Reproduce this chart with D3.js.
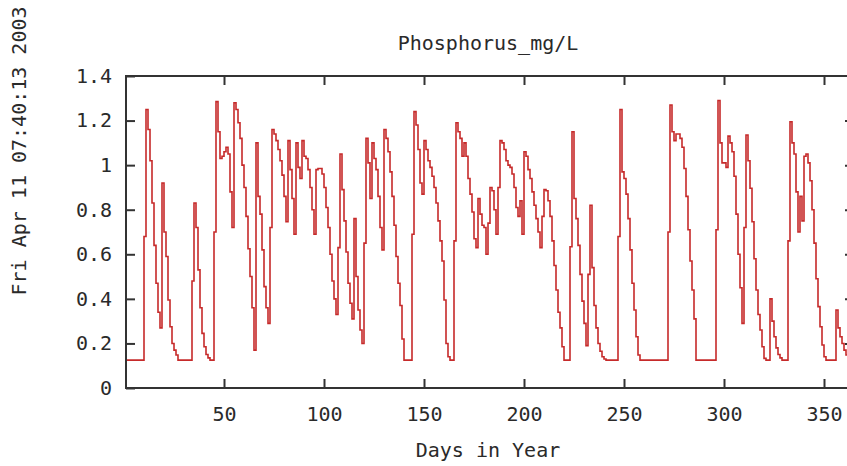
<!DOCTYPE html>
<html lang="en">
<head>
<meta charset="UTF-8">
<title>Phosphorus_mg/L</title>
<script src="https://d3js.org/d3.v7.min.js"></script>
<style>
  body { margin: 0; background: #fff; overflow: hidden; }
  #chart { width: 847px; height: 466px; overflow: hidden; }
  text { font-family: "DejaVu Sans Mono", "Liberation Mono", monospace; fill: #2a2a2a; }
</style>
</head>
<body>
<div id="chart"></div>
<script>

// daily phosphorus readings, one per day starting at day 1
var firstDay = 1
var phosphorus = [
  .125,.125,.125,.125,.125,.125,.125,.125,.125,.68,
  1.25,1.16,1.02,.83,.64,.47,.34,.27,.92,.70,
  .59,.395,.275,.20,.17,.148,.125,.125,.125,.125,
  .125,.125,.125,.48,.83,.72,.53,.36,.245,.185,
  .15,.135,.125,.125,.70,1.285,1.15,1.03,1.04,1.06,
  1.08,1.05,.88,.72,1.28,1.25,1.19,1.12,1.00,.90,
  .77,.625,.50,.36,.17,1.10,.86,.78,.62,.455,
  .36,.29,.72,1.16,1.14,1.11,1.07,1.02,.955,.86,
  .746,1.11,.98,.85,.69,1.10,.99,.94,1.11,1.04,
  1.03,.98,.90,.80,.69,.98,.985,.985,.96,.90,
  .81,.72,.60,.48,.40,.33,.63,1.05,.89,.75,
  .61,.47,.38,.31,.76,.50,.35,.26,.20,.65,
  1.12,1.01,.85,1.10,1.03,.98,.86,.72,.62,1.16,
  1.12,1.06,.97,.86,.73,.59,.47,.37,.22,.125,
  .125,.125,.125,.69,1.24,1.18,1.07,.92,.87,1.11,
  1.07,1.02,.99,.95,.90,.83,.75,.66,.57,.395,
  .20,.14,.125,.125,.66,1.19,1.15,1.12,1.04,1.10,
  1.04,.94,.87,.79,.67,.63,.85,.78,.73,.72,
  .60,.74,.90,.885,.80,.69,.90,1.11,1.10,1.07,
  1.02,1.00,.99,.96,.90,.81,.77,.84,.69,1.06,
  1.04,.98,.94,.88,.82,.76,.70,.63,.77,.89,
  .885,.84,.77,.66,.55,.44,.34,.27,.185,.125,
  .125,.125,.634,1.15,.85,.76,.64,.51,.39,.29,
  .19,.51,.82,.54,.37,.27,.20,.165,.14,.13,
  .125,.125,.125,.125,.125,.125,.68,1.25,.97,.94,
  .87,.76,.62,.47,.35,.23,.148,.125,.125,.125,
  .125,.125,.125,.125,.125,.125,.125,.125,.125,.125,
  .125,.70,1.27,1.15,1.11,1.14,1.14,1.12,1.08,.985,
  .86,.71,.57,.44,.31,.125,.125,.125,.125,.125,
  .125,.125,.125,.125,.125,.71,1.29,1.10,1.01,1.01,
  .99,1.13,1.10,1.06,.95,.78,.60,.45,.29,.72,
  1.135,1.02,.896,.746,.58,.44,.33,.26,.185,.133,
  .125,.125,.40,.30,.23,.18,.15,.135,.125,.125,
  .125,.66,1.195,1.10,1.05,.88,.70,.86,.75,1.04,
  1.05,1.01,.93,.80,.65,.49,.365,.275,.193,.14,
  .125,.125,.125,.125,.125,.35,.27,.23,.20,.17,
  .148,.14,.13,.125,.125
]

// tick values and labels
var xTicks = [50, 100, 150, 200, 250, 300, 350]
var yTicks = [0, 0.2, 0.4, 0.6, 0.8, 1, 1.2, 1.4]
var title = "Phosphorus_mg/L"
var xLabel = "Days in Year"
var stamp = "Fri Apr 11 07:40:13 2003"

var width = 847
var height = 466
// plot box (right border sits just past the window edge, like the original)
var boxLeft = 126, boxTop = 76, boxRight = 854, boxBottom = 388

var data = phosphorus.map(function(v, i){ return { day: firstDay + i, value: v } })

var x = d3.scaleLinear()
  .domain([firstDay, firstDay + phosphorus.length - 1])
  .range([boxLeft, boxRight])

var y = d3.scaleLinear()
  .domain([0, 1.4])
  .range([boxBottom, boxTop])

var svg = d3.select("#chart")
  .append("svg")
    .attr("width", width)
    .attr("height", height)

var fmt = function(d){ return d3.format("~g")(d) }

// left axis with labels, ticks point inward
svg.append("g")
  .attr("transform", "translate(" + boxLeft + ",0)")
  .call(d3.axisLeft(y).tickValues(yTicks).tickFormat(fmt).tickSizeInner(-9).tickSizeOuter(0).tickPadding(14))

// right axis, mirrored ticks only
svg.append("g")
  .attr("transform", "translate(" + boxRight + ",0)")
  .call(d3.axisRight(y).tickValues(yTicks.slice(1, -1)).tickFormat("").tickSizeInner(-9).tickSizeOuter(0))

// bottom axis with labels
svg.append("g")
  .attr("transform", "translate(0," + boxBottom + ")")
  .call(d3.axisBottom(x).tickValues(xTicks).tickFormat(fmt).tickSizeInner(-9).tickSizeOuter(0).tickPadding(19))

// top axis, mirrored ticks only
svg.append("g")
  .attr("transform", "translate(0," + boxTop + ")")
  .call(d3.axisTop(x).tickValues(xTicks).tickFormat("").tickSizeInner(-9).tickSizeOuter(0))

svg.selectAll(".domain").remove()
svg.selectAll(".tick line").attr("stroke", "#333").attr("stroke-width", 2)
svg.selectAll(".tick text")
  .style("font-size", "20px")
  .style("fill", "#2a2a2a")

// the line, drawn as steps
var line = d3.line()
  .curve(d3.curveStepAfter)
  .x(function(d){ return x(d.day) })
  .y(function(d){ return y(d.value) })

svg.append("clipPath")
  .attr("id", "plotclip")
  .append("rect")
    .attr("x", boxLeft).attr("y", boxTop)
    .attr("width", boxRight - boxLeft).attr("height", boxBottom - boxTop)

svg.append("path")
  .datum(data)
  .attr("clip-path", "url(#plotclip)")
  .attr("fill", "none")
  .attr("stroke", "#c62a2a")
  .attr("stroke-width", 1.6)
  .attr("d", line)

// border box
svg.append("rect")
  .attr("x", boxLeft).attr("y", boxTop)
  .attr("width", boxRight - boxLeft).attr("height", boxBottom - boxTop)
  .attr("fill", "none")
  .attr("stroke", "#333")
  .attr("stroke-width", 2)

// title and labels
svg.append("text")
  .attr("x", (boxLeft + boxRight) / 2 - 2)
  .attr("y", 50)
  .attr("text-anchor", "middle")
  .style("font-size", "20px")
  .text(title)

svg.append("text")
  .attr("x", (boxLeft + boxRight) / 2 - 2)
  .attr("y", 457)
  .attr("text-anchor", "middle")
  .style("font-size", "20px")
  .text(xLabel)

svg.append("text")
  .attr("transform", "translate(26,151) rotate(-90)")
  .attr("text-anchor", "middle")
  .style("font-size", "20px")
  .text(stamp)

</script>
</body>
</html>
